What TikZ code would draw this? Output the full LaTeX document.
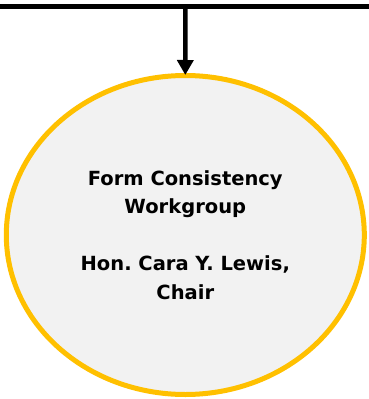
\documentclass[tikz,border=0pt]{standalone}
\usepackage{fontspec}
\setmainfont{DejaVu Sans}
\usetikzlibrary{arrows.meta,shapes.geometric}
\definecolor{gold}{HTML}{FFC000}
\definecolor{fillgray}{HTML}{F2F2F2}
\frenchspacing
\begin{document}
\begin{tikzpicture}[x=1pt,y=-1pt,
  bar/.style={line width=5pt,black},
  connector/.style={line width=4.5pt,black,-{Triangle[width=16pt,length=15pt]},shorten >=-2pt},
  wgnode/.style={ellipse,draw=gold,fill=fillgray,line width=5pt,minimum width=358pt,minimum height=319pt,inner sep=0pt,align=center,font=\bfseries\fontsize{19.5}{28.5}\selectfont}]
\useasboundingbox (0,0) rectangle (369,399);
\coordinate (L) at (0,6.5);
\coordinate (R) at (369,6.5);
\coordinate (J) at (185.5,6.5);
\draw[bar] (L) -- (R);
\node[wgnode] (wg) at (185.3,235) {Form Consistency\\Workgroup\\[28.5pt]Hon. Cara Y. Lewis,\\Chair};
\draw[connector] (J) -- (wg.north);
\end{tikzpicture}
\end{document}
